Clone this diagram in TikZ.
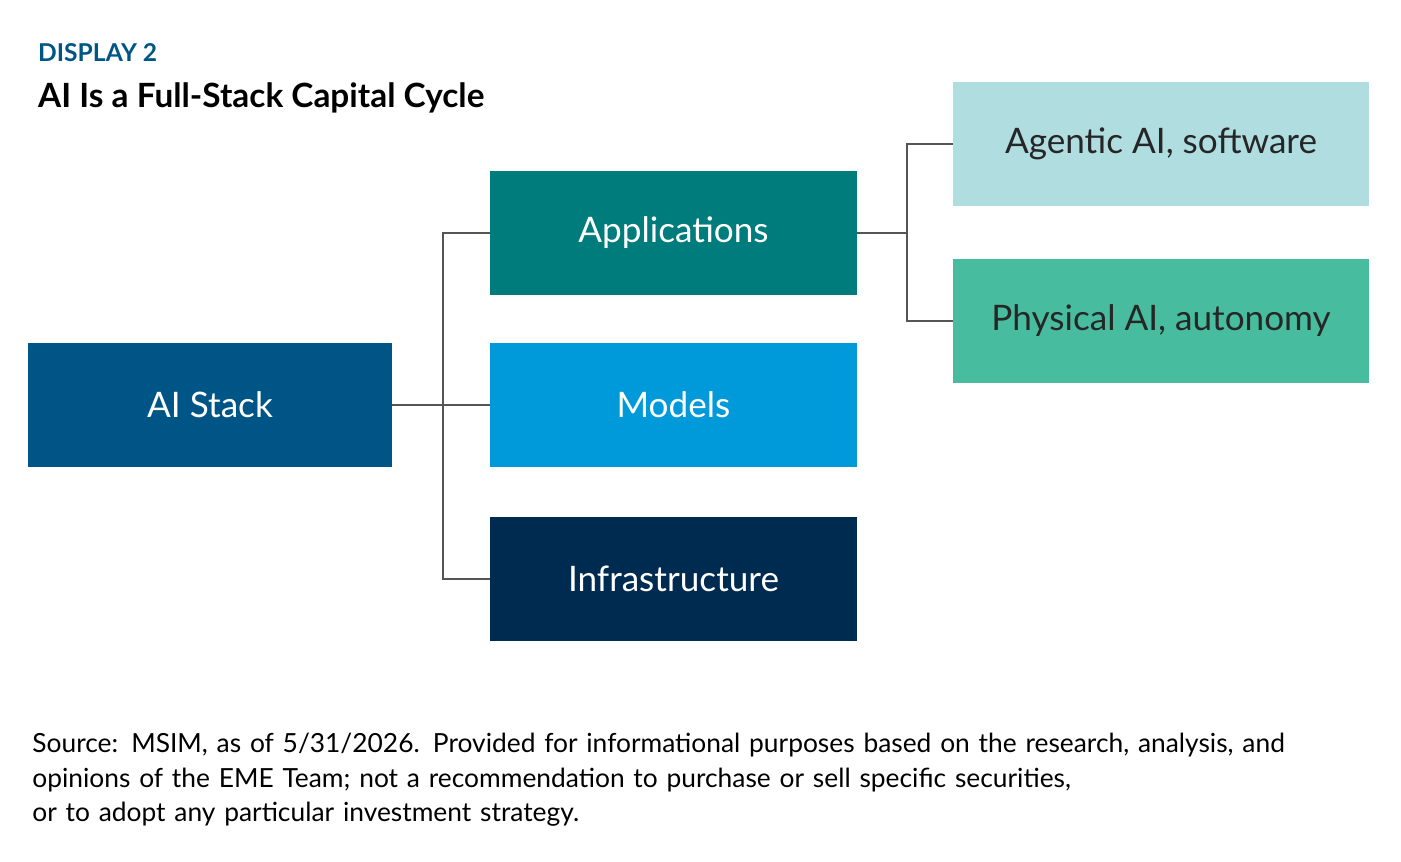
\documentclass[tikz,border=0pt]{standalone}
\usepackage{fontspec}
\setmainfont{Lato}
\usetikzlibrary{positioning}
\definecolor{stackblue}{HTML}{005587}
\definecolor{appteal}{HTML}{007C7C}
\definecolor{modelblue}{HTML}{009ADA}
\definecolor{infranavy}{HTML}{002B51}
\definecolor{agentic}{HTML}{B0DEE0}
\definecolor{physical}{HTML}{48BC9F}
\definecolor{linkgray}{HTML}{555555}
\begin{document}
\begin{tikzpicture}[x=0.02cm, y=-0.02cm,
    box/.style={minimum width=7.34cm, minimum height=2.48cm, inner sep=0pt, text=white, font=\fontsize{20}{24}\selectfont},
    link/.style={draw=linkgray, line width=1.6pt}]

    \useasboundingbox (0,0) rectangle (1401,862);

    \node[anchor=base west, text=stackblue, font=\bfseries\fontsize{14}{16}\selectfont] (display) at (32,61) {DISPLAY 2};
    \node[anchor=base west, font=\bfseries\fontsize{19}{22}\selectfont] (title) at (32,107) {AI Is a Full-Stack Capital Cycle};

    \node[box, minimum width=7.28cm, fill=stackblue] (stack) at (210,405) {AI Stack};

    \node[box, fill=appteal] (apps) at (673.5,233) {Applications};

    \node[box, fill=modelblue] (models) at (673.5,405) {Models};

    \node[box, fill=infranavy] (infra) at (673.5,579) {Infrastructure};

    \node[box, minimum width=8.32cm, fill=agentic, text=black!85] (agent) at (1161,144) {Agentic AI, software};

    \node[box, minimum width=8.32cm, fill=physical, text=black!85] (phys) at (1161,321) {Physical AI, autonomy};

    \coordinate (j1) at (443,405);
    \coordinate (j2) at (907,233);

    \draw[link] (stack) -- (j1);
    \draw[link] (j1) -- (models);
    \draw[link] (j1) |- (apps);
    \draw[link] (j1) |- (infra);

    \draw[link] (apps) -- (j2);
    \draw[link] (j2) |- (agent);
    \draw[link] (j2) |- (phys);

    \node[anchor=north west, align=left, text width=26.6cm, font=\fontsize{15}{19.5}\selectfont, inner sep=0pt] (source) at (32,733) {Source: MSIM, as of 5/31/2026. Provided for informational purposes based on the research, analysis, and\\opinions of the EME Team; not a recommendation to purchase or sell specific securities,\\or to adopt any particular investment strategy.};

\end{tikzpicture}
\end{document}
